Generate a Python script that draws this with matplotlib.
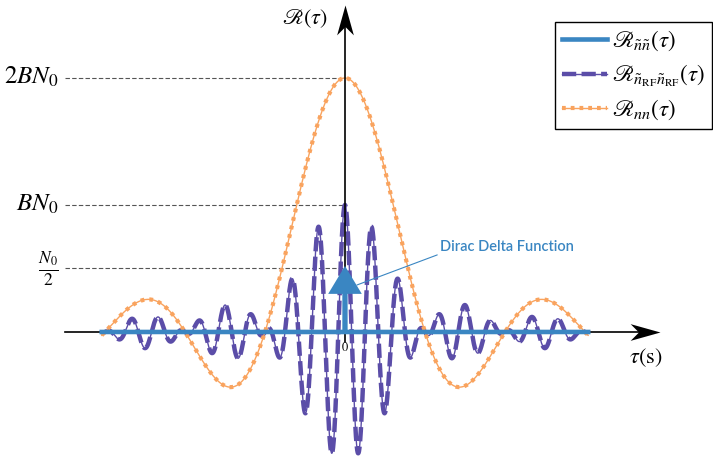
import matplotlib.pyplot as plt
from matplotlib.path import Path
import numpy as np

plt.rcParams['mathtext.fontset'] = 'stix'
plt.rcParams['font.family'] = 'STIXGeneral'

# parameters (B = 1, N0 = 1)
B = 1.0
N0 = 1.0
fc = 6.0            # carrier frequency, 3 cycles per sinc lobe
tau_max = 1.52
delta_weight = 0.52

level_vals = [2 * B * N0, B * N0, N0 / 2]
level_labels = [r'$2BN_0$', r'$BN_0$', r'$\frac{N_0}{2}$']

tau = np.linspace(-tau_max, tau_max, 3000)
R_nn = 2 * B * N0 * np.sinc(2 * B * tau)
R_rf = B * N0 * np.sinc(2 * B * tau) * np.cos(2 * np.pi * fc * tau)
R_bb = np.zeros_like(tau)

blue = '#3a86c2'
purple = '#5b4da8'
orange = '#f9a35e'

fig = plt.figure(figsize=(7.13, 4.61), dpi=100)
ax = fig.add_axes([0, 0, 1, 1])
ax.set_axis_off()
ax.set_xlim(-2.156, 2.30)
ax.set_ylim(-1.016, 2.614)

# reference dashed lines
ax.hlines(level_vals, -1.75, 0, colors='#555555', lw=0.8, linestyles=(0, (4, 2)), zorder=1)
for v, lab in zip(level_vals, level_labels):
    ax.text(-1.79, v, lab, ha='right', va='center', fontsize=18)

# curves
p_thin, = ax.plot(tau, R_rf, color=purple, lw=1.0, zorder=2)
p_dash, = ax.plot(tau, R_rf, color=purple, lw=3.2, dashes=(3.2, 1.2), zorder=2)
o_thin, = ax.plot(tau, R_nn, color=orange, lw=1.0, zorder=3)
o_dot, = ax.plot(tau, R_nn, color=orange, lw=3.0, dashes=(0.9, 1.2), zorder=3)

# axes with stealth heads
ax.plot([-1.75, 1.92], [0, 0], color='k', lw=1.2, zorder=4)
ax.plot([0, 0], [-0.079, 2.5], color='k', lw=1.2, zorder=4)
head_r = Path([(0, 0), (-1, 0.28), (-0.72, 0), (-1, -0.28), (0, 0)])
head_u = Path([(0, 0), (0.28, -1), (0, -0.72), (-0.28, -1), (0, 0)])
ax.plot([1.97], [0], marker=head_r, markersize=43, color='k', mew=0, zorder=4)
ax.plot([0], [2.575], marker=head_u, markersize=43, color='k', mew=0, zorder=4)

b_line, = ax.plot(tau, R_bb, color=blue, lw=3.3, zorder=5)
ax.arrow(0, 0, 0, delta_weight, width=0.033, head_width=0.21, head_length=0.22,
         length_includes_head=True, color=blue, lw=0, zorder=6)

ax.annotate('Dirac Delta Function', xy=(0.075, 0.37), xytext=(0.594, 0.615),
            fontsize=10.5, color=blue, family='Lato', weight='semibold',
            va='bottom', ha='left',
            arrowprops=dict(arrowstyle='-', color=blue, lw=0.8,
                            shrinkA=0, shrinkB=0, relpos=(0, 0)))

ax.text(0, -0.126, '0', ha='center', va='center', fontsize=9)
ax.text(-0.25, 2.47, r'$\mathscr{R}(\tau)$', ha='center', va='center', fontsize=16)
ax.text(1.88, -0.2, r'$\tau(\mathrm{s})$', ha='center', va='center', fontsize=16)

leg = ax.legend([b_line, (p_thin, p_dash), (o_thin, o_dot)],
                [r'$\mathscr{R}_{\tilde{n}\tilde{n}}(\tau)$',
                 r'$\mathscr{R}_{\tilde{n}_{\mathrm{RF}}\tilde{n}_{\mathrm{RF}}}(\tau)$',
                 r'$\mathscr{R}_{nn}(\tau)$'],
                loc='upper right', bbox_to_anchor=(0.999, 0.952),
                bbox_transform=fig.transFigure, fontsize=16.5, frameon=True,
                fancybox=False, edgecolor='k', framealpha=1, borderaxespad=0,
                handlelength=2.0, handletextpad=0.2, labelspacing=0.4,
                borderpad=0.3)
leg.get_frame().set_linewidth(1.0)

fig.savefig('out.png', dpi=100)
